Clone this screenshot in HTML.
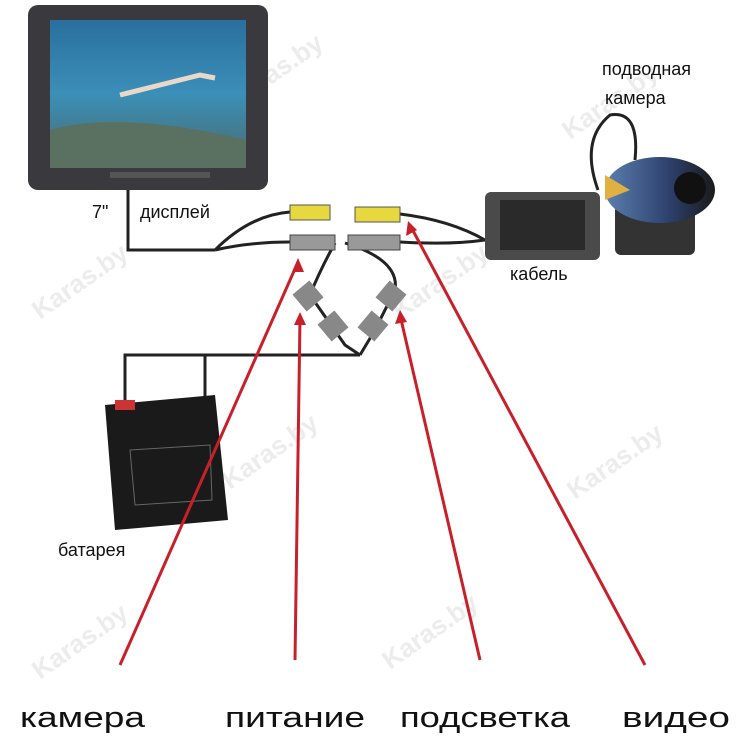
<!DOCTYPE html>
<html><head><meta charset="utf-8"><style>
html,body{margin:0;padding:0;background:#fff;}
svg{display:block;}
text{font-family:"Liberation Sans",sans-serif;}
</style></head><body>
<svg width="750" height="750" viewBox="0 0 750 750" xmlns="http://www.w3.org/2000/svg">
<defs>
<linearGradient id="sea" x1="0" y1="0" x2="0" y2="1">
<stop offset="0" stop-color="#2a6f9e"/><stop offset="0.5" stop-color="#3b8fb8"/><stop offset="1" stop-color="#4a6a6a"/>
</linearGradient>
<linearGradient id="fish" x1="0" y1="0" x2="1" y2="0">
<stop offset="0" stop-color="#5b7fb0"/><stop offset="0.6" stop-color="#2c3f6a"/><stop offset="1" stop-color="#1a1a1a"/>
</linearGradient>
</defs>
<g fill="#ececec" font-size="26" font-weight="bold">
<text transform="translate(40,320) rotate(-35)">Karas.by</text>
<text transform="translate(235,110) rotate(-35)">Karas.by</text>
<text transform="translate(570,140) rotate(-35)">Karas.by</text>
<text transform="translate(400,320) rotate(-35)">Karas.by</text>
<text transform="translate(230,490) rotate(-35)">Karas.by</text>
<text transform="translate(575,500) rotate(-35)">Karas.by</text>
<text transform="translate(40,680) rotate(-35)">Karas.by</text>
<text transform="translate(390,670) rotate(-35)">Karas.by</text>
</g>
<rect x="28" y="5" width="240" height="185" rx="10" fill="#3a3a3e"/>
<rect x="50" y="20" width="196" height="148" fill="url(#sea)"/>
<path d="M50 130 Q120 110 246 140 L246 168 L50 168Z" fill="#5a7060"/>
<path d="M120 95 L160 85 L200 75 L215 78" stroke="#e8d8c8" stroke-width="5" fill="none"/>
<rect x="110" y="172" width="100" height="6" fill="#555"/>
<g stroke="#222" stroke-width="3" fill="none">
<path d="M128 190 L128 250 L215 250"/>
<path d="M215 250 Q250 215 290 212"/>
<path d="M215 250 Q250 242 290 242"/>
<path d="M400 214 Q450 220 485 240"/>
<path d="M400 242 Q450 245 485 240"/>
<path d="M335 243 Q320 270 310 295 L345 345 L360 355"/>
<path d="M345 243 Q400 260 395 290 L375 330 L360 355"/>
<path d="M360 355 L125 355 L125 400"/>
<path d="M205 355 L205 400"/>
<path d="M598 190 Q580 140 610 115 Q640 110 635 160"/>
</g>
<rect x="290" y="205" width="40" height="15" fill="#e8d840" stroke="#555"/>
<rect x="290" y="235" width="45" height="15" fill="#999" stroke="#444"/>
<rect x="355" y="207" width="45" height="15" fill="#e8d840" stroke="#555"/>
<rect x="348" y="235" width="52" height="15" fill="#999" stroke="#444"/>
<rect x="297" y="285" width="22" height="22" fill="#888" transform="rotate(-40 308 296)"/>
<rect x="322" y="315" width="22" height="22" fill="#888" transform="rotate(-40 333 326)"/>
<rect x="380" y="285" width="22" height="22" fill="#888" transform="rotate(40 391 296)"/>
<rect x="362" y="315" width="22" height="22" fill="#888" transform="rotate(40 373 326)"/>
<rect x="485" y="192" width="115" height="68" rx="6" fill="#4a4a4a"/>
<rect x="500" y="200" width="85" height="50" fill="#2a2a2a"/>
<rect x="615" y="205" width="80" height="50" rx="6" fill="#333"/>
<ellipse cx="660" cy="190" rx="55" ry="33" fill="url(#fish)"/>
<circle cx="690" cy="188" r="16" fill="#111"/>
<path d="M605 175 L630 190 L605 200Z" fill="#e0b040"/>
<path d="M105 405 L215 395 L228 520 L115 530Z" fill="#1a1a1a"/>
<rect x="115" y="400" width="20" height="10" fill="#c33"/>
<path d="M130 450 L210 445 L212 500 L135 505Z" fill="none" stroke="#666"/>
<g font-size="18" fill="#111">
<text x="92" y="218">7"</text>
<text x="140" y="218">дисплей</text>
<text x="602" y="75">подводная</text>
<text x="605" y="104">камера</text>
<text x="510" y="280">кабель</text>
<text x="58" y="556">батарея</text>
</g>
<g stroke="#c8202a" stroke-width="3" fill="none">
<line x1="120" y1="665" x2="298" y2="262"/>
<line x1="295" y1="660" x2="300" y2="318"/>
<line x1="480" y1="660" x2="400" y2="315"/>
<line x1="645" y1="665" x2="410" y2="225"/>
</g>
<g fill="#c8202a">
<path d="M298 258 L292 272 L304 272Z"/>
<path d="M300 312 L294 325 L306 325Z"/>
<path d="M400 310 L395 324 L407 322Z"/>
<path d="M408 221 L406 236 L417 230Z"/>
</g>
<g font-size="29" fill="#111">
<text x="20" y="727" textLength="125" lengthAdjust="spacingAndGlyphs">камера</text>
<text x="225" y="727" textLength="140" lengthAdjust="spacingAndGlyphs">питание</text>
<text x="400" y="727" textLength="170" lengthAdjust="spacingAndGlyphs">подсветка</text>
<text x="622" y="727" textLength="108" lengthAdjust="spacingAndGlyphs">видео</text>
</g>
</svg>
</body></html>
